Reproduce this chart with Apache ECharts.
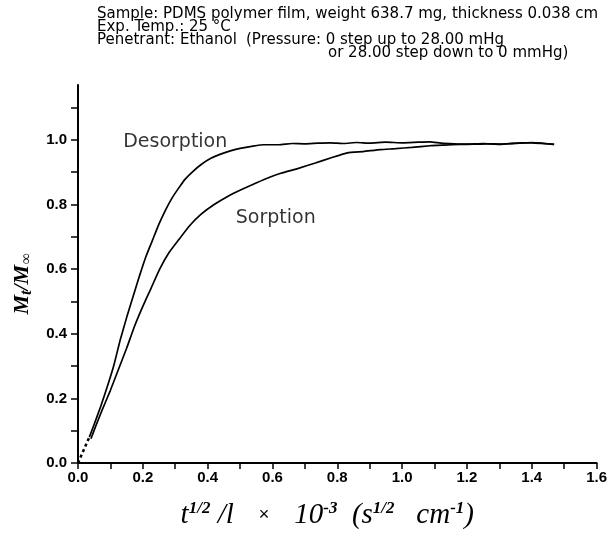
<!DOCTYPE html>
<html>
<head>
<meta charset="utf-8">
<script src="https://cdn.jsdelivr.net/npm/echarts@6/dist/echarts.min.js"></script>
<style>html,body{margin:0;padding:0;background:#fff}#c{width:610px;height:550px}</style>
</head>
<body>
<div id="c"></div>
<script>
// ---- data ----
const desorptionX = [0.035,0.05,0.07,0.09,0.11,0.13,0.15,0.17,0.19,0.21,0.23,0.25,0.27,0.29,0.31,0.33,0.355,0.38,0.41,0.44,0.47,0.50,0.54,0.574,0.62,0.66,0.70,0.74,0.779,0.82,0.86,0.90,0.95,1.00,1.05,1.086,1.12,1.16,1.20,1.25,1.30,1.35,1.40,1.43,1.469];
const desorptionY = [0.08,0.12,0.175,0.235,0.30,0.38,0.45,0.515,0.58,0.64,0.69,0.74,0.783,0.82,0.85,0.878,0.903,0.924,0.943,0.956,0.966,0.974,0.981,0.985,0.985,0.989,0.988,0.990,0.991,0.989,0.992,0.990,0.993,0.991,0.993,0.994,0.990,0.988,0.987,0.989,0.986,0.989,0.992,0.990,0.986];
const sorptionX = [0.04,0.055,0.075,0.10,0.125,0.15,0.175,0.20,0.225,0.252,0.28,0.31,0.345,0.38,0.42,0.463,0.503,0.534,0.58,0.626,0.68,0.73,0.779,0.831,0.88,0.933,0.98,1.03,1.086,1.13,1.178,1.22,1.26,1.30,1.35,1.40,1.43,1.469];
const sorptionY = [0.075,0.115,0.165,0.225,0.29,0.355,0.425,0.485,0.54,0.60,0.65,0.69,0.735,0.77,0.80,0.826,0.846,0.86,0.88,0.897,0.912,0.928,0.944,0.96,0.964,0.970,0.973,0.977,0.982,0.984,0.986,0.987,0.988,0.987,0.990,0.991,0.989,0.986];
const initialX = [0.0,0.035];
const initialY = [0.0,0.08];
const labelNames = ['Desorption','Sorption'];
const labelX = [0.30,0.61];
const labelY = [0.994,0.758];
const xTicks = [0,0.1,0.2,0.3,0.4,0.5,0.6,0.7,0.8,0.9,1.0,1.1,1.2,1.3,1.4,1.5,1.6];
const xLabels = [0,0.2,0.4,0.6,0.8,1.0,1.2,1.4,1.6];
const yTicks = [0,0.1,0.2,0.3,0.4,0.5,0.6,0.7,0.8,0.9,1.0,1.1];
const yLabels = [0,0.2,0.4,0.6,0.8,1.0];
const headerLines = [
  'Sample: PDMS polymer film, weight 638.7 mg, thickness 0.038 cm',
  'Exp. Temp.: 25 \u00b0C',
  'Penetrant: Ethanol',
  '(Pressure: 0 step up to 28.00 mHg',
  'or 28.00 step down to 0 mmHg)'
];

const zip = (xs, ys) => xs.map((x, i) => [x, ys[i]]);
const chart = echarts.init(document.getElementById('c'), null, {renderer: 'canvas'});
const hdrFont = {fontFamily: 'DejaVu Sans', fontSize: 15, fill: '#000'};
const axisLbl = {fontFamily: 'Liberation Sans', fontWeight: 'bold', fontSize: 15, color: '#000'};
const serifI = {fontFamily: 'Liberation Serif', fontStyle: 'italic', color: '#000', lineHeight: 30};

chart.setOption({
  animation: false,
  backgroundColor: '#fff',
  grid: {left: 78, right: 12, top: 85, bottom: 87},
  xAxis: {
    type: 'value', min: 0, max: 1.6,
    axisLine: {lineStyle: {color: '#000', width: 2}},
    axisTick: {customValues: xTicks, length: 6, lineStyle: {color: '#000', width: 1.5}},
    axisLabel: Object.assign({customValues: xLabels, margin: 7, formatter: v => v.toFixed(1)}, axisLbl),
    splitLine: {show: false},
    name: '{i|t}{s|1/2}{i| /l}{u|     \u00d7     }{i|10}{s|-3}{i|  (s}{s|1/2}{i|   cm}{s|-1}{i|)}{u|    }',
    nameLocation: 'middle', nameGap: 37,
    nameTextStyle: {
      rich: {
        i: Object.assign({fontSize: 29, verticalAlign: 'bottom'}, serifI),
        s: Object.assign({fontSize: 17, fontWeight: 'bold', verticalAlign: 'top'}, serifI),
        u: {fontFamily: 'Liberation Sans', fontSize: 18, color: '#000', lineHeight: 30, verticalAlign: 'middle'}
      }
    }
  },
  yAxis: {
    type: 'value', min: 0, max: 1.17,
    axisLine: {lineStyle: {color: '#000', width: 2}},
    axisTick: {customValues: yTicks, length: 7, lineStyle: {color: '#000', width: 1.5}},
    axisLabel: Object.assign({customValues: yLabels, margin: 11, formatter: v => v.toFixed(1)}, axisLbl),
    splitLine: {show: false},
    name: '{m|M}{b|t}{m|/M}{b|\u221e}{b|     }',
    nameLocation: 'middle', nameRotate: 90, nameGap: 30,
    nameTextStyle: {
      rich: {
        m: {fontFamily: 'Liberation Serif', fontStyle: 'italic', fontWeight: 'bold', fontSize: 22, color: '#000', lineHeight: 24, verticalAlign: 'top'},
        b: {fontFamily: 'Liberation Serif', fontStyle: 'italic', fontWeight: 'bold', fontSize: 16, color: '#000', lineHeight: 24, verticalAlign: 'bottom'}
      }
    }
  },
  series: [
    {type: 'line', data: zip(desorptionX, desorptionY), showSymbol: false, symbol: 'none', smooth: 0.15,
     lineStyle: {color: '#000', width: 1.7}},
    {type: 'line', data: zip(sorptionX, sorptionY), showSymbol: false, symbol: 'none', smooth: 0.15,
     lineStyle: {color: '#000', width: 1.7}},
    {type: 'line', data: zip(initialX, initialY), showSymbol: false, symbol: 'none',
     lineStyle: {color: '#000', width: 2.5, type: [3, 3]}},
    {type: 'scatter', symbolSize: 0, data: zip(labelX, labelY).map((p, i) => ({value: p, name: labelNames[i]})),
     label: {show: true, position: 'inside', formatter: p => p.name,
       fontFamily: 'DejaVu Sans', fontSize: 19, color: '#000'}}
  ],
  graphic: [
    {type: 'text', left: 97, top: 7, style: Object.assign({text: headerLines[0]}, hdrFont)},
    {type: 'text', left: 97, top: 20, style: Object.assign({text: headerLines[1]}, hdrFont)},
    {type: 'text', left: 97, top: 33, style: Object.assign({text: headerLines[2]}, hdrFont)},
    {type: 'text', left: 246, top: 33, style: Object.assign({text: headerLines[3]}, hdrFont)},
    {type: 'text', left: 328, top: 46, style: Object.assign({text: headerLines[4]}, hdrFont)}
  ]
});
</script>
</body>
</html>
